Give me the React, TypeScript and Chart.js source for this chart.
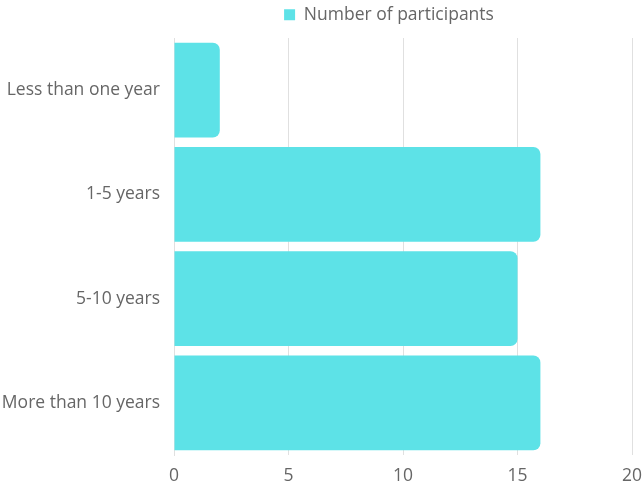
import React, { useEffect, useRef } from "react";
import { Chart, registerables } from "chart.js";

Chart.register(...registerables);

const categories = ["Less than one year", "1-5 years", "5-10 years", "More than 10 years"];
const participants = [2, 16, 15, 16];
const seriesLabel = "Number of participants";
const xTicks = [0, 5, 10, 15, 20];

const FONT = { family: "'Open Sans'", size: 17.5 };

export default function App() {
  const ref = useRef<HTMLCanvasElement | null>(null);
  useEffect(() => {
    document.body.style.margin = "0";
    document.body.style.overflow = "hidden";
    if (!ref.current) return;
    const legendTweak = {
      id: "legendTweak",
      beforeInit(chart: any) {
        const lg = chart.legend;
        if (lg) {
          const orig = lg.fit;
          lg.fit = function () {
            orig.call(this);
            this.height = 38;
          };
        }
      },
      afterLayout(chart: any) {
        const lg = chart.legend;
        if (lg) {
          lg.left += 73;
          lg.right += 73;
        }
      },
    };
    const chart = new Chart(ref.current, {
      type: "bar",
      data: {
        labels: categories,
        datasets: [
          {
            label: seriesLabel,
            data: participants,
            backgroundColor: "#5de2e7",
            borderRadius: 7,
            borderSkipped: "start",
            barPercentage: 0.91,
            categoryPercentage: 1,
          },
        ],
      },
      plugins: [legendTweak],
      options: {
        indexAxis: "y",
        animation: false,
        responsive: false,
        maintainAspectRatio: false,
        layout: { autoPadding: false, padding: { right: 10, top: 0, bottom: 0, left: 0 } },
        plugins: {
          legend: {
            display: true,
            position: "top",
            labels: {
              boxWidth: 11,
              boxHeight: 11,
              padding: 6,
              color: "#666",
              font: FONT,
            },
          },
          tooltip: { enabled: false },
        },
        scales: {
          x: {
            min: xTicks[0],
            max: xTicks[xTicks.length - 1],
            afterBuildTicks: (s: any) => {
              s.ticks = xTicks.map((v) => ({ value: v }));
            },
            ticks: { color: "#666", font: FONT, padding: 11 },
            grid: { color: "#e0e0e0", drawTicks: false },
            border: { display: false },
            afterFit: (s: any) => {
              s.height = 30;
              s.paddingLeft = 0;
              s.paddingRight = 0;
              s._computeLabelArea = () => undefined;
            },
          },
          y: {
            ticks: { color: "#666", font: FONT, padding: 14 },
            grid: { display: false, drawTicks: false },
            border: { display: true, color: "#e0e0e0" },
            afterFit: (s: any) => {
              s.width = 174;
              s.paddingTop = 0;
              s.paddingBottom = 0;
              s._computeLabelArea = () => undefined;
            },
          },
        },
      },
    });
    return () => chart.destroy();
  }, []);
  return (
    <div style={{ width: 642, height: 485 }}>
      <canvas ref={ref} width={642} height={485} style={{ display: "block" }} />
    </div>
  );
}
